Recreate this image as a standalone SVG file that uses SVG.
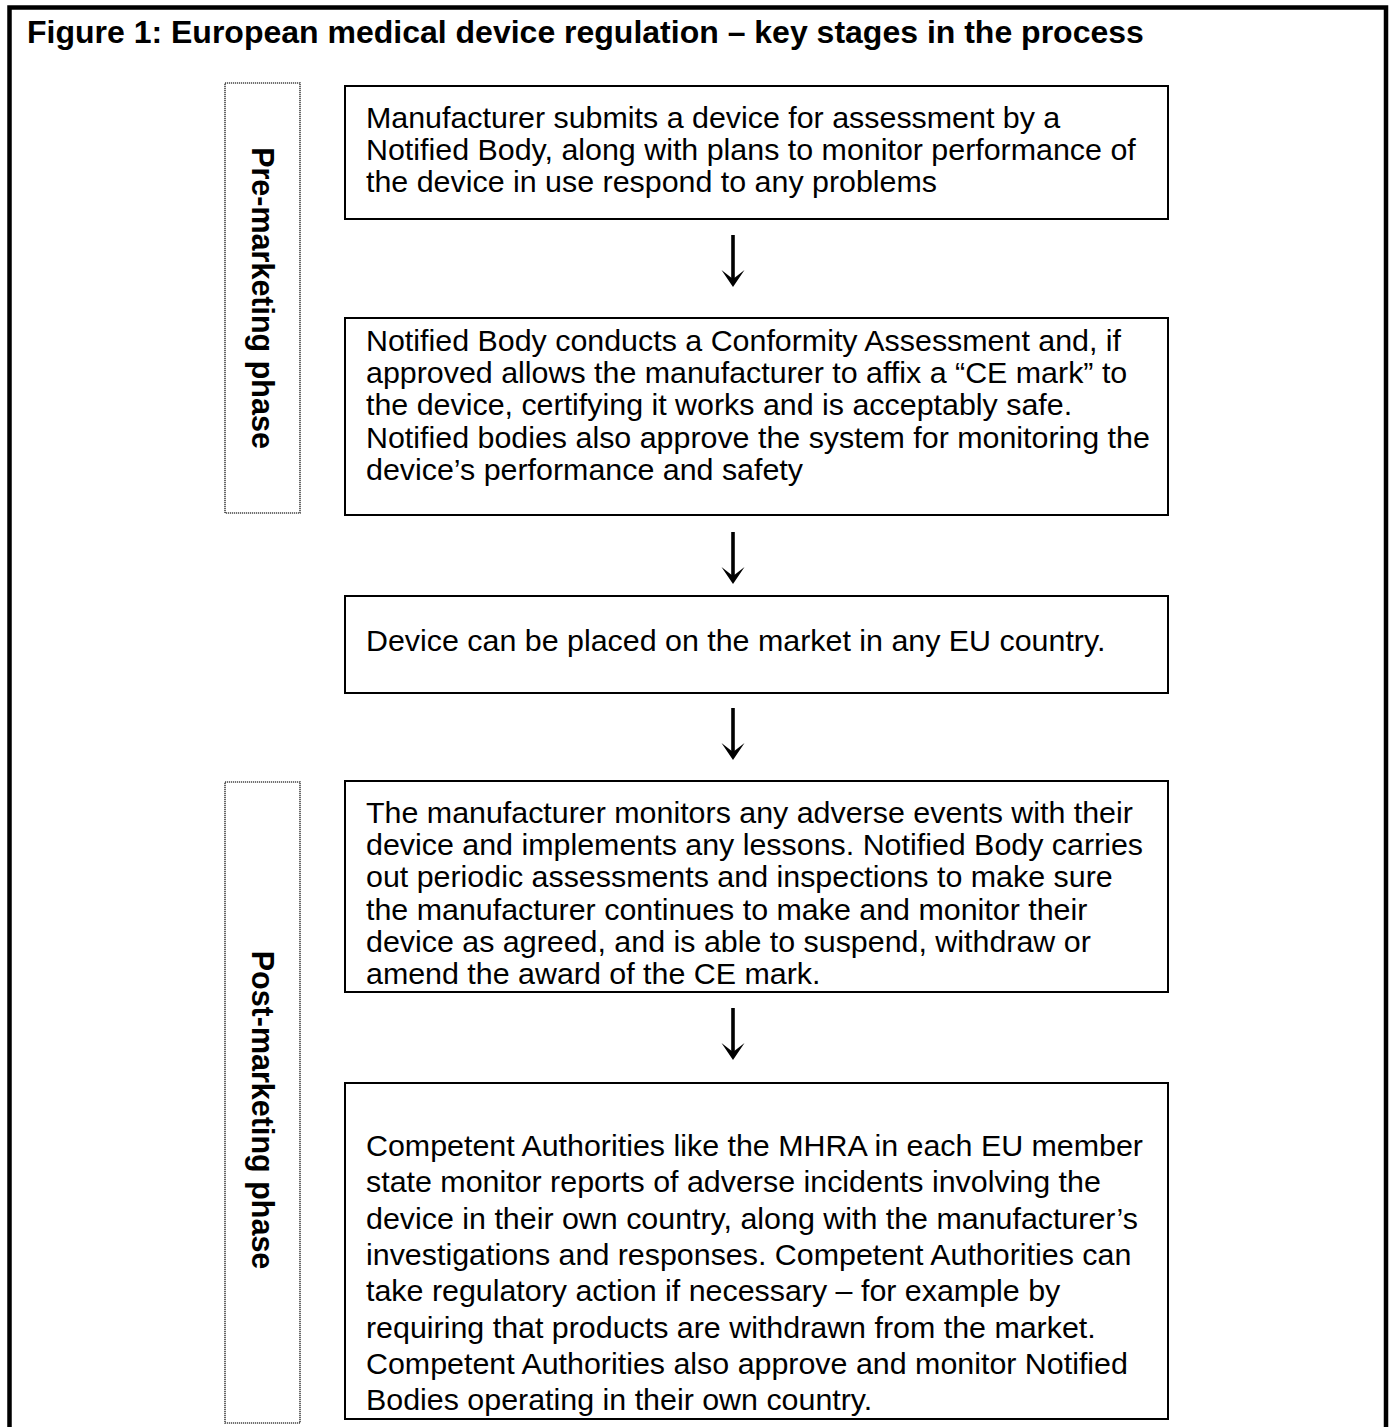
<svg xmlns="http://www.w3.org/2000/svg" width="1392" height="1427" viewBox="0 0 1392 1427">
<defs>
<style>
.frame{fill:none;stroke:#000;stroke-width:4.5}
.box{fill:#fff;stroke:#000;stroke-width:2}
.side{fill:#fff;stroke:#444;stroke-width:1.6;stroke-dasharray:1.2 0.8}
.t{font-family:"Liberation Sans",Arial,sans-serif;font-size:30.4px;fill:#000}
.title{font-family:"Liberation Sans",Arial,sans-serif;font-size:32px;font-weight:bold;fill:#000}
.lab{font-family:"Liberation Sans",Arial,sans-serif;font-size:30.5px;font-weight:bold;fill:#000}
.arr{stroke:#000;stroke-width:3.6;fill:none}
</style>
<marker id="ah" markerUnits="userSpaceOnUse" viewBox="0 -12 17 24" markerWidth="17" markerHeight="24" refX="11" refY="0" orient="auto">
<path d="M0,-11.5 L17,0 L0,11.5 L9,0 Z" fill="#000"/>
</marker>
</defs>
<rect width="1392" height="1427" fill="#fff"/>
<path class="frame" d="M9.5,1440 L9.5,7.5 L1386,7.5 L1386,1440"/>
<text class="title" x="27" y="43">Figure 1: European medical device regulation – key stages in the process</text>

<g id="pre-marketing">
<rect class="side" x="225" y="83" width="75" height="430"/>
<text class="lab" transform="translate(252,298) rotate(90)" text-anchor="middle">Pre-marketing phase</text>
</g>
<g id="post-marketing">
<rect class="side" x="225" y="782" width="75" height="641"/>
<text class="lab" transform="translate(252,1110) rotate(90)" text-anchor="middle">Post-marketing phase</text>
</g>

<g id="step1">
<rect class="box" x="345" y="86" width="823" height="133"/>
<text class="t" x="366" y="128">Manufacturer submits a device for assessment by a</text>
<text class="t" x="366" y="160">Notified Body, along with plans to monitor performance of</text>
<text class="t" x="366" y="192">the device in use respond to any problems</text>
</g>
<g id="step2">
<rect class="box" x="345" y="318" width="823" height="197"/>
<text class="t" x="366" y="351">Notified Body conducts a Conformity Assessment and, if</text>
<text class="t" x="366" y="383">approved allows the manufacturer to affix a “CE mark” to</text>
<text class="t" x="366" y="415">the device, certifying it works and is acceptably safe.</text>
<text class="t" x="366" y="448">Notified bodies also approve the system for monitoring the</text>
<text class="t" x="366" y="480">device’s performance and safety</text>
</g>
<g id="step3">
<rect class="box" x="345" y="596" width="823" height="97"/>
<text class="t" x="366" y="651">Device can be placed on the market in any EU country.</text>
</g>
<g id="step4">
<rect class="box" x="345" y="781" width="823" height="211"/>
<text class="t" x="366" y="823">The manufacturer monitors any adverse events with their</text>
<text class="t" x="366" y="855">device and implements any lessons. Notified Body carries</text>
<text class="t" x="366" y="887">out periodic assessments and inspections to make sure</text>
<text class="t" x="366" y="920">the manufacturer continues to make and monitor their</text>
<text class="t" x="366" y="952">device as agreed, and is able to suspend, withdraw or</text>
<text class="t" x="366" y="984">amend the award of the CE mark.</text>
</g>
<g id="step5">
<rect class="box" x="345" y="1083" width="823" height="336"/>
<text class="t" x="366" y="1156">Competent Authorities like the MHRA in each EU member</text>
<text class="t" x="366" y="1192">state monitor reports of adverse incidents involving the</text>
<text class="t" x="366" y="1229">device in their own country, along with the manufacturer’s</text>
<text class="t" x="366" y="1265">investigations and responses. Competent Authorities can</text>
<text class="t" x="366" y="1301">take regulatory action if necessary – for example by</text>
<text class="t" x="366" y="1338">requiring that products are withdrawn from the market.</text>
<text class="t" x="366" y="1374">Competent Authorities also approve and monitor Notified</text>
<text class="t" x="366" y="1410">Bodies operating in their own country.</text>
</g>

<g id="connectors">
<line class="arr" x1="733" y1="235" x2="733" y2="281" marker-end="url(#ah)"/>
<line class="arr" x1="733" y1="532" x2="733" y2="578" marker-end="url(#ah)"/>
<line class="arr" x1="733" y1="708" x2="733" y2="754" marker-end="url(#ah)"/>
<line class="arr" x1="733" y1="1008" x2="733" y2="1054" marker-end="url(#ah)"/>
</g>
</svg>
